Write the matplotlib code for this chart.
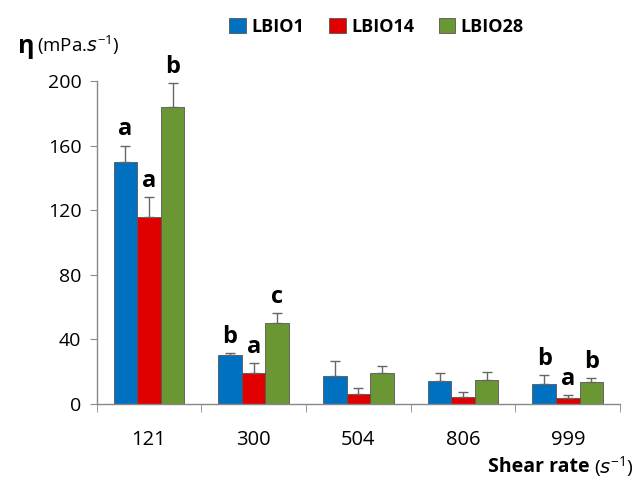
import numpy as np
import matplotlib.pyplot as plt
from matplotlib import rcParams
rcParams['font.family'] = ['Open Sans', 'DejaVu Sans']
rcParams['mathtext.default'] = 'regular'

shear = ['121', '300', '504', '806', '999']
series = ['LBIO1', 'LBIO14', 'LBIO28']
colors = ['#0070C0', '#E00000', '#6A9634']

lbio1 = [150, 30.3, 17.5, 14.2, 12.0]
lbio14 = [116, 19.0, 6.2, 4.3, 3.5]
lbio28 = [184, 50.3, 18.8, 14.6, 13.2]
err1 = [10, 1.2, 9.0, 5.0, 5.8]
err14 = [12, 6.0, 3.7, 3.3, 2.0]
err28 = [15, 6.0, 4.5, 5.2, 2.7]

# letras de significancia (vacio = sin letra)
let1 = ['a', 'b', '', '', 'b']
let14 = ['a', 'a', '', '', 'a']
let28 = ['b', 'c', '', '', 'b']

fig = plt.figure(figsize=(6.44, 4.79), dpi=100)
ax = fig.add_axes([0.150, 0.157, 0.813, 0.674])

x = np.arange(len(shear))
w = 0.225
vals = [lbio1, lbio14, lbio28]
errs = [err1, err14, err28]
lets = [let1, let14, let28]
for i in range(3):
    pos = x + (i - 1) * w
    ax.bar(pos, vals[i], w, color=colors[i], edgecolor='#555555', linewidth=0.6,
           label=series[i], zorder=2)
    ax.errorbar(pos, vals[i], yerr=[np.zeros(5), errs[i]], fmt='none',
                ecolor='#666666', elinewidth=1.0, capsize=3.5, capthick=1.0, zorder=3)
    for p, v, e, t in zip(pos, vals[i], errs[i], lets[i]):
        if t:
            ax.text(p, v + e + 2.5, t, ha='center', va='bottom', fontsize=17,
                    fontweight='bold')

ax.set_xlim(-0.5, 4.5)
ax.set_ylim(0, 200)
ax.set_yticks(np.arange(0, 201, 40))
ax.set_xticks(x)
ax.set_xticklabels(shear)
ax.set_xticks(np.arange(-0.5, 4.6, 1), minor=True)
ax.tick_params(axis='x', which='major', length=0, pad=19, labelsize=14.5)
ax.tick_params(axis='x', which='minor', length=6, direction='out', color='#888888')
ax.tick_params(axis='y', length=5, direction='out', color='#888888', labelsize=14, pad=6)
for s in ['top', 'right']:
    ax.spines[s].set_visible(False)
for s in ['left', 'bottom']:
    ax.spines[s].set_color('#888888')
    ax.spines[s].set_linewidth(1.0)

fig.text(0.028, 0.903, 'η', fontsize=18, fontweight='bold', va='center')
fig.text(0.058, 0.905, r'(mPa.$\mathit{s}^{-1}$)', fontsize=13.5, va='center')

fig.text(0.916, 0.025, 'Shear rate', fontsize=14, fontweight='bold', ha='right', va='center')
fig.text(0.923, 0.025, r'($\mathit{s}^{-1}$)', fontsize=14, ha='left', va='center')

ax.legend(loc='upper center', bbox_to_anchor=(0.535, 1.245), ncol=3, frameon=False,
          handlelength=0.9, handleheight=0.9, handletextpad=0.3, columnspacing=1.4,
          prop={'weight': 'bold', 'size': 13})

plt.savefig('out.png', dpi=100)
